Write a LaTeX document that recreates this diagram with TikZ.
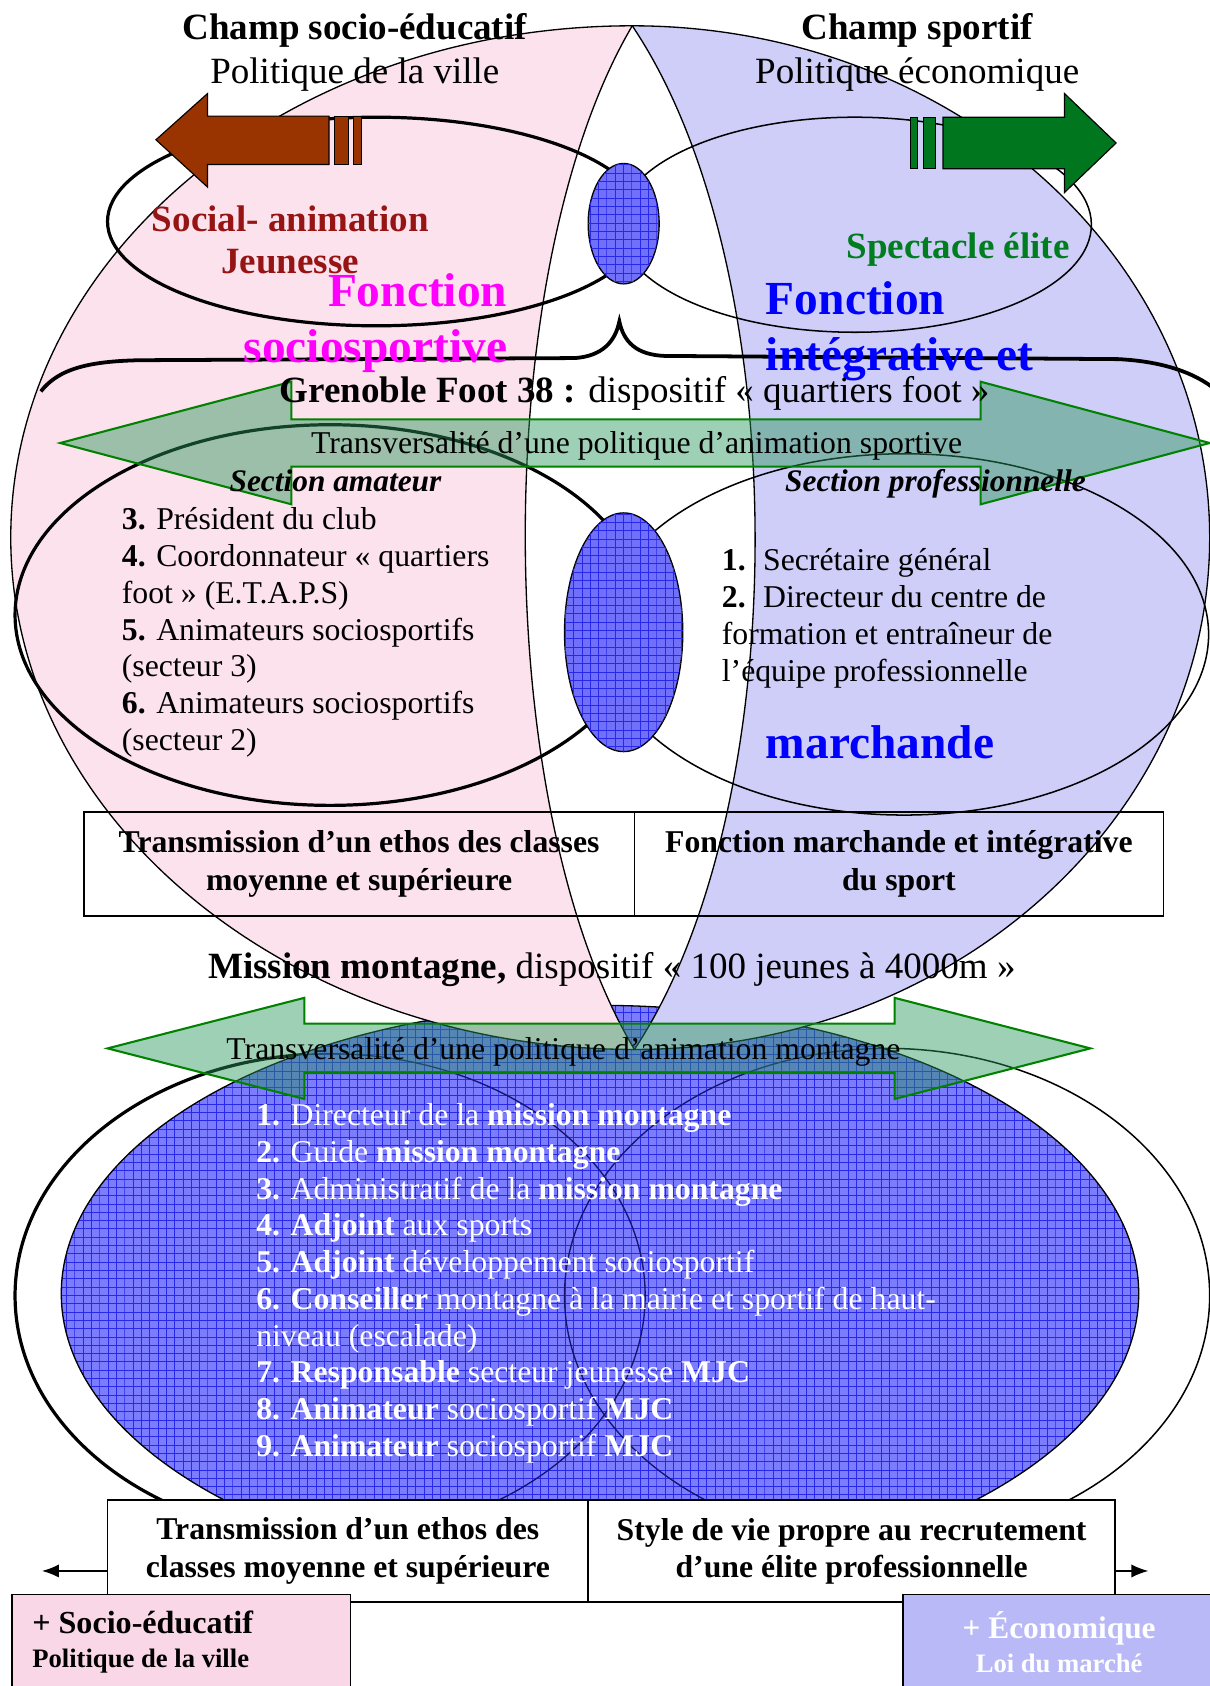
\documentclass[tikz,border=0pt]{standalone}
\usepackage{fontspec}
\setmainfont{Liberation Serif}
\usetikzlibrary{arrows.meta,positioning,patterns.meta}
\definecolor{cPink}{RGB}{252,226,236}
\definecolor{cLav}{RGB}{206,206,248}
\definecolor{cInter}{RGB}{112,112,250}
\definecolor{cMont}{RGB}{124,124,255}
\definecolor{cMesh}{RGB}{40,40,235}
\definecolor{cRingIn}{RGB}{20,20,110}
\definecolor{cTrans}{RGB}{40,150,90}
\definecolor{cTransLine}{RGB}{0,130,0}
\definecolor{cBrown}{RGB}{153,51,0}
\definecolor{cGreenArr}{RGB}{0,118,30}
\definecolor{cSocial}{RGB}{150,20,20}
\definecolor{cSpect}{RGB}{0,125,30}
\definecolor{cFoncSoc}{RGB}{255,0,255}
\definecolor{cFoncInt}{RGB}{0,0,255}
\definecolor{cBoxPink}{RGB}{250,215,230}
\definecolor{cBoxLav}{RGB}{185,185,248}
\tikzdeclarepattern{
  name=mesh,
  type=uncolored,
  bounding box={(-0.2pt,-0.2pt) and (4.6pt,4.6pt)},
  tile size={(4.4pt,4.4pt)},
  code={
    \draw[line width=0.35pt] (0pt,0pt) -- (4.4pt,0pt);
    \draw[line width=0.35pt] (0pt,0pt) -- (0pt,4.4pt);
  }
}
\tikzset{
  basetxt/.style={inner sep=0pt},
  titletxt/.style={basetxt,font=\fontsize{19.6}{23.2}\selectfont,align=center},
  bodytxt/.style={basetxt,font=\fontsize{16.8}{19.45}\selectfont,align=left},
  transtxt/.style={basetxt,font=\fontsize{16.8}{19.5}\selectfont},
  secttxt/.style={basetxt,font=\bfseries\itshape\fontsize{16.6}{19.5}\selectfont},
  foncttxt/.style={basetxt,font=\bfseries\fontsize{25.1}{29.5}\selectfont},
  fieldtxt/.style={basetxt,font=\bfseries\fontsize{19.6}{22.1}\selectfont,align=center},
  cellbox/.style={draw=black,line width=0.9pt,inner sep=0pt,align=center,
                  font=\bfseries\fontsize{16.8}{19.8}\selectfont},
  zone/.style={draw=black,line width=0.7pt},
  thinring/.style={draw=black,line width=0.8pt},
  thickring/.style={draw=black,line width=1.7pt},
  interzone/.style={zone,fill=cInter},
  meshfill/.style={pattern={mesh},pattern color=cMesh},
  transarr/.style={fill=cTrans,fill opacity=0.45,draw=cTransLine,line width=1.1pt},
  fieldarr/.style={draw=black,line width=0.6pt},
  outarr/.style={-{Latex[length=9pt,width=7pt]},line width=0.8pt}
}
\begin{document}
\begin{tikzpicture}[x=0.02cm,y=-0.02cm]
\useasboundingbox (0,0) rectangle (1125,1568);

% montagne
\draw[thickring] (307,1205) ellipse [x radius=293, y radius=225];
\draw[thinring] (825,1205) ellipse [x radius=300, y radius=230];
\fill[cMont] (558,1203) ellipse [x radius=501, y radius=268];
\fill[meshfill] (558,1203) ellipse [x radius=501, y radius=268];
\begin{scope}
  \clip (558,1203) ellipse [x radius=501, y radius=268];
  \draw[cRingIn,line width=0.7pt] (307,1205) ellipse [x radius=293, y radius=225];
  \draw[cRingIn,line width=0.7pt] (825,1205) ellipse [x radius=300, y radius=230];
\end{scope}
\draw[zone] (558,1203) ellipse [x radius=501, y radius=268];

% the two fields
\filldraw[zone,fill=cPink] (588,24) .. controls (268,24) and (10,238) .. (10,500)
  .. controls (10,762) and (270,976) .. (590,976)
  .. controls (455,750) and (455,250) .. cycle;
\filldraw[zone,fill=cLav] (588,24) .. controls (885,24) and (1125,238) .. (1125,500)
  .. controls (1125,762) and (885,976) .. (590,976)
  .. controls (740,750) and (740,250) .. cycle;

% rings
\draw[thickring] (350,206) ellipse [x radius=250, y radius=97];
\draw[thinring] (795,209) ellipse [x radius=220, y radius=100];
\draw[thickring] (307,572) ellipse [x radius=293, y radius=177];
\draw[thinring] (841,590) ellipse [x radius=283, y radius=168];
\filldraw[interzone] (580,208) ellipse [x radius=33, y radius=56];
\fill[meshfill] (580,208) ellipse [x radius=33, y radius=56];
\filldraw[interzone] (580,588) ellipse [x radius=55, y radius=111];
\fill[meshfill] (580,588) ellipse [x radius=55, y radius=111];

% brace
\draw[line width=2pt] (38,364) .. controls (55,342) and (85,336) .. (130,335)
  -- (535,333) .. controls (560,331) and (572,318) .. (576,299)
  .. controls (580,318) and (592,330) .. (618,331)
  -- (1040,334) .. controls (1080,336) and (1110,346) .. (1130,362);

% field arrows
\filldraw[fieldarr,fill=cBrown] (145,130) -- (193,87) -- (193,108) -- (306,108)
  -- (306,153) -- (193,153) -- (193,174) -- cycle;
\filldraw[fieldarr,fill=cBrown] (311,108) rectangle (324,153);
\filldraw[fieldarr,fill=cBrown] (329,108) rectangle (336,153);
\filldraw[fieldarr,fill=cGreenArr] (1038,133) -- (990,87) -- (990,109) -- (877,109)
  -- (877,157) -- (990,157) -- (990,179) -- cycle;
\filldraw[fieldarr,fill=cGreenArr] (859,109) rectangle (870,157);
\filldraw[fieldarr,fill=cGreenArr] (847,109) rectangle (853,157);

% transversal arrows
\filldraw[transarr] (56,412) -- (271,355) -- (271,390) -- (912,390) -- (912,355)
  -- (1125,412) -- (912,469) -- (912,434) -- (271,434) -- (271,469) -- cycle;
\filldraw[transarr] (100,975) -- (283,928) -- (283,952) -- (832,952) -- (832,928)
  -- (1014,975) -- (832,1022) -- (832,998) -- (283,998) -- (283,1022) -- cycle;

% tables
\node[cellbox,minimum width=10.24cm,minimum height=1.94cm] (cellEthos) at (334,803.5)
  {Transmission d’un ethos des classes\\moyenne et supérieure};
\node[cellbox,minimum width=9.84cm,minimum height=1.94cm] (cellMarch) at (836,803.5)
  {Fonction marchande et intégrative\\du sport};
\node[cellbox,fill=white,minimum width=8.94cm,minimum height=1.9cm] (cellEthosB) at (323.5,1442.5)
  {Transmission d’un ethos des\\classes moyenne et supérieure};
\node[cellbox,fill=white,minimum width=9.8cm,minimum height=1.9cm] (cellStyle) at (792,1442.5)
  {Style de vie propre au recrutement\\d’une élite professionnelle};

\node[draw=black,line width=0.9pt,fill=cBoxPink,minimum width=6.3cm,minimum height=1.76cm,
      inner xsep=0.38cm,inner ysep=0pt,text width=5.54cm,align=flush left,
      font=\bfseries\fontsize{17}{18.1}\selectfont] (boxSoc) at (168.5,1527)
  {+ Socio-éducatif\\{\fontsize{14.1}{18.1}\selectfont Politique de la ville}};
\node[draw=black,line width=0.9pt,fill=cBoxLav,minimum width=5.8cm,minimum height=1.76cm,
      inner sep=0pt,align=center,text=white,
      font=\bfseries\fontsize{16.6}{18.1}\selectfont] (boxEco) at (985,1527)
  {+ Économique\\{\fontsize{14.1}{18.1}\selectfont Loi du marché}};

\coordinate (leftEnd) at (39,1461);
\coordinate (rightEnd) at (1068,1461);
\draw[outarr] (cellEthosB.west |- leftEnd) -- (leftEnd);
\draw[outarr] (cellStyle.east |- rightEnd) -- (rightEnd);

% texts
\node[titletxt,anchor=north] (champSoc) at (330,12) {\textbf{Champ socio-éducatif}\\Politique de la ville};
\node[titletxt,anchor=north] (champSport) at (853,12) {\textbf{Champ sportif}\\Politique économique};
\node[fieldtxt,text=cSocial,anchor=north] (social) at (270,191) {Social- animation\\Jeunesse};
\node[fieldtxt,text=cSpect,anchor=mid] (spectacle) at (891,236) {Spectacle élite};
\node[foncttxt,text=cFoncSoc,align=right,anchor=north east] (foncSoc) at (472,254) {Fonction\\sociosportive};
\node[foncttxt,text=cFoncInt,align=left,anchor=north west] (foncInt) at (712,262) {Fonction\\intégrative et};
\node[foncttxt,text=cFoncInt,anchor=base west] (marchande) at (712,705) {marchande};
\node[titletxt,anchor=mid] (grenoble) at (590,370) {\textbf{Grenoble Foot 38 :} dispositif « quartiers foot »};
\node[transtxt,anchor=mid] (transSport) at (592,418) {Transversalité d’une politique d’animation sportive};
\node[secttxt,anchor=mid] (secAmat) at (312,453) {Section amateur};
\node[secttxt,anchor=mid] (secPro) at (870,453) {Section professionnelle};
\node[bodytxt,anchor=north west] (listAmat) at (113,472)
  {\textbf{3.} Président du club\\
   \textbf{4.} Coordonnateur « quartiers\\
   foot » (E.T.A.P.S)\\
   \textbf{5.} Animateurs sociosportifs\\
   (secteur 3)\\
   \textbf{6.} Animateurs sociosportifs\\
   (secteur 2)};
\node[bodytxt,anchor=north west] (listPro) at (671,510)
  {\textbf{1.}\hspace{0.55em}Secrétaire général\\
   \textbf{2.}\hspace{0.55em}Directeur du centre de\\
   formation et entraîneur de\\
   l’équipe professionnelle};
\node[titletxt,anchor=mid] (mission) at (569,906) {\textbf{Mission montagne,} dispositif « 100 jeunes à 4000m »};
\node[transtxt,anchor=mid] (transMont) at (524,981) {Transversalité d’une politique d’animation montagne};
\node[bodytxt,text=white,anchor=north west] (listMont) at (238,1026)
  {\textbf{1.} Directeur de la \textbf{mission montagne}\\
   \textbf{2.} Guide \textbf{mission montagne}\\
   \textbf{3.} Administratif de la \textbf{mission montagne}\\
   \textbf{4. Adjoint} aux sports\\
   \textbf{5. Adjoint} développement sociosportif\\
   \textbf{6. Conseiller} montagne à la mairie et sportif de haut-\\
   niveau (escalade)\\
   \textbf{7. Responsable} secteur jeunesse \textbf{MJC}\\
   \textbf{8. Animateur} sociosportif \textbf{MJC}\\
   \textbf{9. Animateur} sociosportif \textbf{MJC}};

\end{tikzpicture}
\end{document}
